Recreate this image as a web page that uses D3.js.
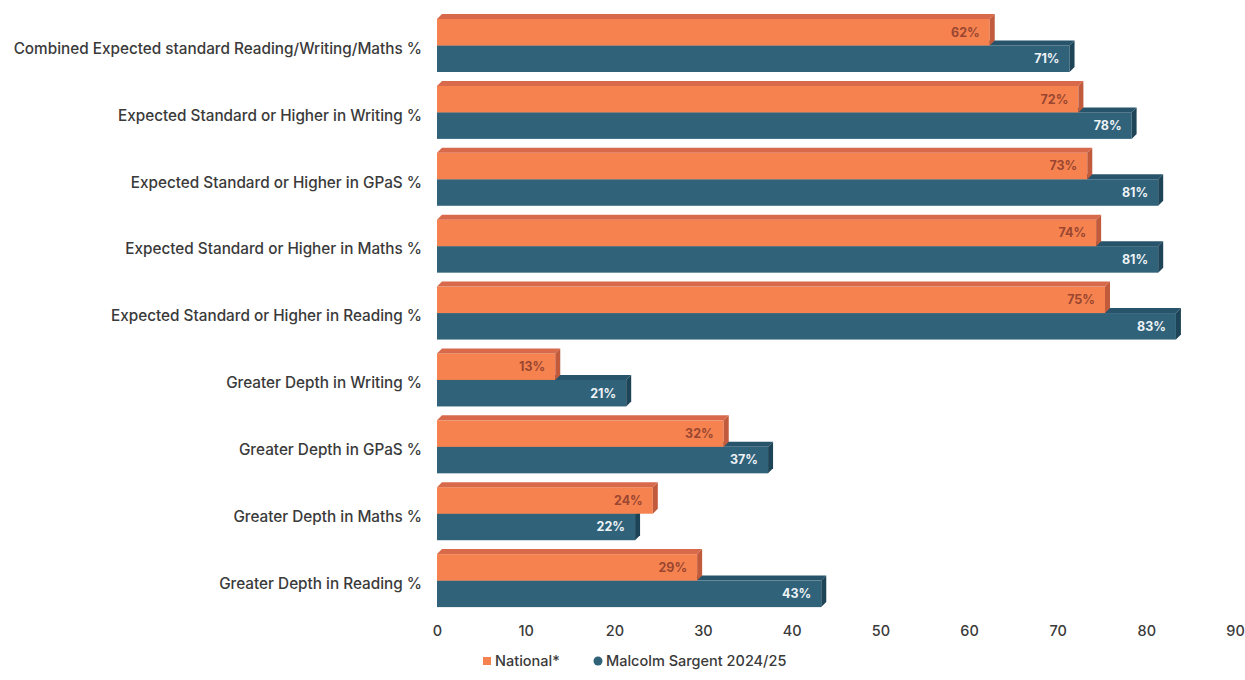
<!DOCTYPE html>
<html>
<head>
<meta charset="utf-8">
<script src="https://cdn.jsdelivr.net/npm/d3@7"></script>
<style>
  body { margin: 0; background: #fff; }
  text { font-family: Inter, "Open Sans", sans-serif; }
</style>
</head>
<body>
<svg></svg>
<script>
// categories top to bottom
const categories = [
  "Combined Expected standard Reading/Writing/Maths %",
  "Expected Standard or Higher in Writing %",
  "Expected Standard or Higher in GPaS %",
  "Expected Standard or Higher in Maths %",
  "Expected Standard or Higher in Reading %",
  "Greater Depth in Writing %",
  "Greater Depth in GPaS %",
  "Greater Depth in Maths %",
  "Greater Depth in Reading %"
];
const national = [62, 72, 73, 74, 75, 13, 32, 24, 29];
const malcolm = [71, 78, 81, 81, 83, 21, 37, 22, 43];
const seriesNames = ["National*", "Malcolm Sargent 2024/25"];
const xTicks = [0, 10, 20, 30, 40, 50, 60, 70, 80, 90];

const width = 1245, height = 680;
const depth = 5;

const svg = d3.select("svg")
    .attr("width", width)
    .attr("height", height);

const x = d3.scaleLinear().domain([0, 90]).range([437, 1235]);
const y = d3.scaleBand().domain(categories).range([15, 617]);
const sub = d3.scaleBand().domain(seriesNames).range([4, 57]);

const colors = {
  "National*": { front: "#f6834f", top: "#d8694b", side: "#c25a3c", label: "#9a4631" },
  "Malcolm Sargent 2024/25": { front: "#30627a", top: "#27546a", side: "#1e4557", label: "#eef3f6" }
};

const rows = categories.map((c, i) => ({ cat: c, vals: [national[i], malcolm[i]] }));

// category labels
svg.append("g")
  .selectAll("text")
  .data(categories)
  .join("text")
    .attr("x", 422)
    .attr("y", d => y(d) + y.bandwidth() / 2)
    .attr("dy", "0.35em")
    .attr("text-anchor", "end")
    .attr("font-size", 15.3)
    .attr("font-weight", 500)
    .attr("fill", "#3a3a3a")
    .text(d => d);

// bars, teal drawn first so the orange front face covers its top face
const bars = [];
rows.forEach(r => {
  bars.push({ cat: r.cat, s: seriesNames[1], v: r.vals[1] });
  bars.push({ cat: r.cat, s: seriesNames[0], v: r.vals[0] });
});

const g = svg.append("g");
bars.forEach(b => {
  const c = colors[b.s];
  const x0 = x(0), x1 = x(b.v) + 3;
  const y0 = y(b.cat) + sub(b.s), y1 = y0 + sub.bandwidth();
  const bg = g.append("g");
  bg.append("rect")
    .attr("x", x0).attr("y", y0)
    .attr("width", x1 - x0).attr("height", y1 - y0)
    .attr("fill", c.front);
  bg.append("path")
    .attr("d", `M${x0},${y0}L${x0 + depth},${y0 - depth}L${x1 + depth},${y0 - depth}L${x1},${y0}Z`)
    .attr("fill", c.top);
  bg.append("path")
    .attr("d", `M${x1},${y0}L${x1 + depth},${y0 - depth}L${x1 + depth},${y1 - depth}L${x1},${y1}Z`)
    .attr("fill", c.side);
  bg.append("text")
    .attr("x", x1 - 10)
    .attr("y", (y0 + y1) / 2)
    .attr("dy", "0.35em")
    .attr("text-anchor", "end")
    .attr("font-size", 12.5)
    .attr("font-weight", "bold")
    .attr("fill", c.label)
    .text(b.v + "%");
});

// x axis labels
const xAxis = svg.append("g")
  .attr("transform", "translate(0,623)")
  .call(d3.axisBottom(x).tickValues(xTicks).tickSize(0).tickPadding(3));
xAxis.select(".domain").remove();
xAxis.selectAll("text")
  .attr("font-size", 14.5)
  .attr("font-weight", 500)
  .attr("font-family", "Inter, Open Sans, sans-serif")
  .attr("fill", "#3a3a3a");

// legend
const legend = svg.append("g").attr("transform", "translate(0,661)");
const legendItems = [
  { s: seriesNames[0], x: 487 },
  { s: seriesNames[1], x: 598 }
];
legendItems.forEach((d, i) => {
  const c = colors[d.s];
  if (i === 0) {
    legend.append("rect")
      .attr("x", d.x - 4).attr("y", -4).attr("width", 8).attr("height", 8)
      .attr("fill", c.front);
  } else {
    legend.append("circle")
      .attr("cx", d.x).attr("cy", 0).attr("r", 4.5)
      .attr("fill", c.front);
  }
  legend.append("text")
    .attr("x", d.x + 8)
    .attr("y", 0)
    .attr("dy", "0.35em")
    .attr("font-size", 14.5)
    .attr("font-weight", 500)
    .attr("fill", "#3a3a3a")
    .text(d.s);
});
</script>
</body>
</html>
